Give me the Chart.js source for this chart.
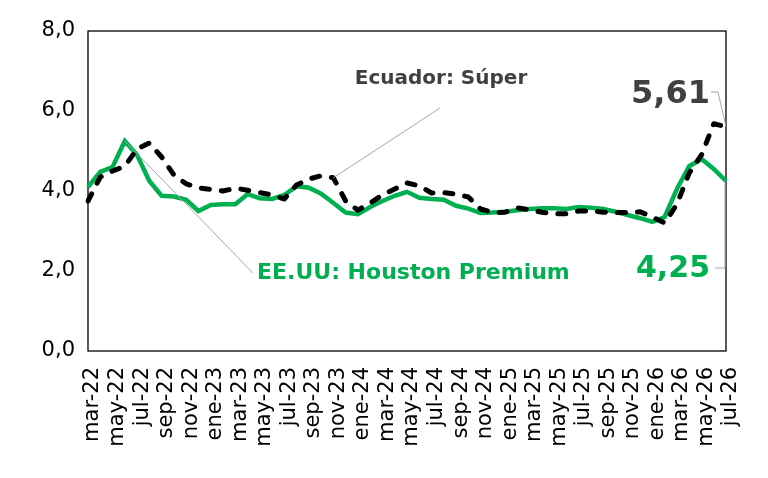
<!DOCTYPE html>
<html lang="es">
<head>
<meta charset="utf-8">
<title>Precios gasolina</title>
<script src="https://cdn.jsdelivr.net/npm/chart.js@4.4.1/dist/chart.umd.min.js"></script>
<style>
  html, body { margin: 0; padding: 0; background: #fff; }
  #caja { width: 768px; height: 478px; position: relative; }
</style>
</head>
<body>
<div id="caja"><canvas id="grafico"></canvas></div>
<script>
const meses = [
  'mar-22', 'abr-22', 'may-22', 'jun-22', 'jul-22', 'ago-22', 'sep-22', 'oct-22', 'nov-22', 'dic-22',
  'ene-23', 'feb-23', 'mar-23', 'abr-23', 'may-23', 'jun-23', 'jul-23', 'ago-23', 'sep-23', 'oct-23', 'nov-23', 'dic-23',
  'ene-24', 'feb-24', 'mar-24', 'abr-24', 'may-24', 'jun-24', 'jul-24', 'ago-24', 'sep-24', 'oct-24', 'nov-24', 'dic-24',
  'ene-25', 'feb-25', 'mar-25', 'abr-25', 'may-25', 'jun-25', 'jul-25', 'ago-25', 'sep-25', 'oct-25', 'nov-25', 'dic-25',
  'ene-26', 'feb-26', 'mar-26', 'abr-26', 'may-26', 'jun-26', 'jul-26'
];

// Ecuador: Súper (USD/galón)
const ecuadorSuper = [
  3.75, 4.35, 4.50, 4.62, 5.05, 5.20, 4.85, 4.40, 4.18, 4.08,
  4.04, 4.00, 4.07, 4.02, 3.96, 3.90, 3.80, 4.15, 4.30, 4.38, 4.33, 3.75,
  3.52, 3.70, 3.90, 4.05, 4.20, 4.13, 3.95, 3.96, 3.92, 3.85, 3.55, 3.46,
  3.47, 3.58, 3.53, 3.47, 3.43, 3.43, 3.50, 3.50, 3.47, 3.46, 3.46, 3.48,
  3.35, 3.20, 3.67, 4.45, 4.90, 5.68, 5.61
];

// EE.UU: Houston Premium
const houstonPremium = [
  4.10, 4.48, 4.60, 5.25, 4.90, 4.25, 3.88, 3.86, 3.78, 3.50,
  3.65, 3.67, 3.67, 3.92, 3.82, 3.80, 3.90, 4.12, 4.08, 3.93, 3.70, 3.46,
  3.42, 3.60, 3.75, 3.88, 3.98, 3.83, 3.80, 3.78, 3.63, 3.56, 3.45, 3.46,
  3.48, 3.52, 3.55, 3.57, 3.57, 3.55, 3.60, 3.58, 3.55, 3.48, 3.40, 3.32,
  3.23, 3.35, 4.05, 4.62, 4.80, 4.55, 4.25
];

const ticksY = [0, 2, 4, 6, 8];

const VERDE = '#00B050';
const GRIS_TXT = '#404040';
const GRIS_LINEA = '#A6A6A6';
const FUENTE = "'DejaVu Sans', sans-serif";

const fmtComa = (v, dec) => Number(v).toFixed(dec).replace('.', ',');

const marco = {
  id: 'marco',
  beforeDatasetsDraw(chart) {
    const { ctx, chartArea: a } = chart;
    ctx.save();
    ctx.strokeStyle = '#000';
    ctx.lineWidth = 1.3;
    ctx.strokeRect(a.left, a.top, a.right - a.left, a.bottom - a.top);
    ctx.restore();
  }
};

const anotaciones = {
  id: 'anotaciones',
  afterDatasetsDraw(chart) {
    const { ctx } = chart;
    const pEc = chart.getDatasetMeta(0).data;
    const pHo = chart.getDatasetMeta(1).data;
    const ult = pEc.length - 1;

    ctx.save();
    ctx.strokeStyle = GRIS_LINEA;
    ctx.lineWidth = 1;

    // Ecuador: Súper -> nov-23
    ctx.beginPath();
    ctx.moveTo(440, 108);
    ctx.lineTo(pEc[20].x, pEc[20].y);
    ctx.stroke();

    // EE.UU -> jun-22
    ctx.beginPath();
    ctx.moveTo(pHo[3].x, pHo[3].y);
    ctx.lineTo(253, 273);
    ctx.stroke();

    // 5,61
    ctx.beginPath();
    ctx.moveTo(711, 92);
    ctx.lineTo(718, 92);
    ctx.lineTo(pEc[ult].x, pEc[ult].y);
    ctx.stroke();

    // 4,25
    ctx.beginPath();
    ctx.moveTo(pHo[ult].x - 1, pHo[ult].y);
    ctx.lineTo(pHo[ult].x - 1, 268);
    ctx.lineTo(715, 268);
    ctx.stroke();

    ctx.textBaseline = 'middle';

    ctx.fillStyle = GRIS_TXT;
    ctx.font = 'bold 20px ' + FUENTE;
    ctx.textAlign = 'center';
    ctx.fillText('Ecuador: Súper', 441, 79);

    ctx.font = 'bold 32px ' + FUENTE;
    ctx.textAlign = 'right';
    ctx.fillText(fmtComa(ecuadorSuper[ult], 2), 710, 95);

    ctx.fillStyle = VERDE;
    ctx.font = 'bold 22px ' + FUENTE;
    ctx.textAlign = 'left';
    ctx.fillText('EE.UU: Houston Premium', 257, 273);

    ctx.font = 'bold 30px ' + FUENTE;
    ctx.textAlign = 'right';
    ctx.fillText(fmtComa(houstonPremium[ult], 2), 710, 269);

    ctx.restore();
  }
};

new Chart(document.getElementById('grafico'), {
  type: 'line',
  data: {
    labels: meses,
    datasets: [
      {
        label: 'Ecuador: Súper',
        data: ecuadorSuper,
        borderColor: '#000',
        borderWidth: 5,
        borderDash: [8, 12],
        borderCapStyle: 'round',
        borderJoinStyle: 'round',
        pointRadius: 0,
        tension: 0,
        fill: false
      },
      {
        label: 'EE.UU: Houston Premium',
        data: houstonPremium,
        borderColor: VERDE,
        borderWidth: 4.5,
        borderJoinStyle: 'miter',
        pointRadius: 0,
        tension: 0,
        fill: false
      }
    ]
  },
  options: {
    responsive: true,
    maintainAspectRatio: false,
    animation: false,
    layout: { padding: { top: 31, right: 42, left: 0, bottom: 0 } },
    plugins: {
      legend: { display: false },
      tooltip: { enabled: false }
    },
    scales: {
      x: {
        offset: false,
        grid: { display: false, drawTicks: false },
        border: { display: false },
        afterFit(scale) { scale.height = 127; },
        ticks: {
          autoSkip: false,
          maxRotation: 90,
          minRotation: 90,
          padding: 16,
          labelOffset: 5,
          color: '#000',
          font: { family: FUENTE, size: 21 },
          callback: (v, i) => (i % 2 === 0 ? meses[i] : '')
        }
      },
      y: {
        min: 0,
        max: 8,
        afterFit(scale) { scale.width = 88; },
        afterBuildTicks(scale) { scale.ticks = ticksY.map(v => ({ value: v })); },
        grid: { display: false, drawTicks: false },
        border: { display: false },
        ticks: {
          padding: 13,
          color: '#000',
          font: { family: FUENTE, size: 21 },
          callback: v => fmtComa(v, 1)
        }
      }
    }
  },
  plugins: [marco, anotaciones]
});
</script>
</body>
</html>
